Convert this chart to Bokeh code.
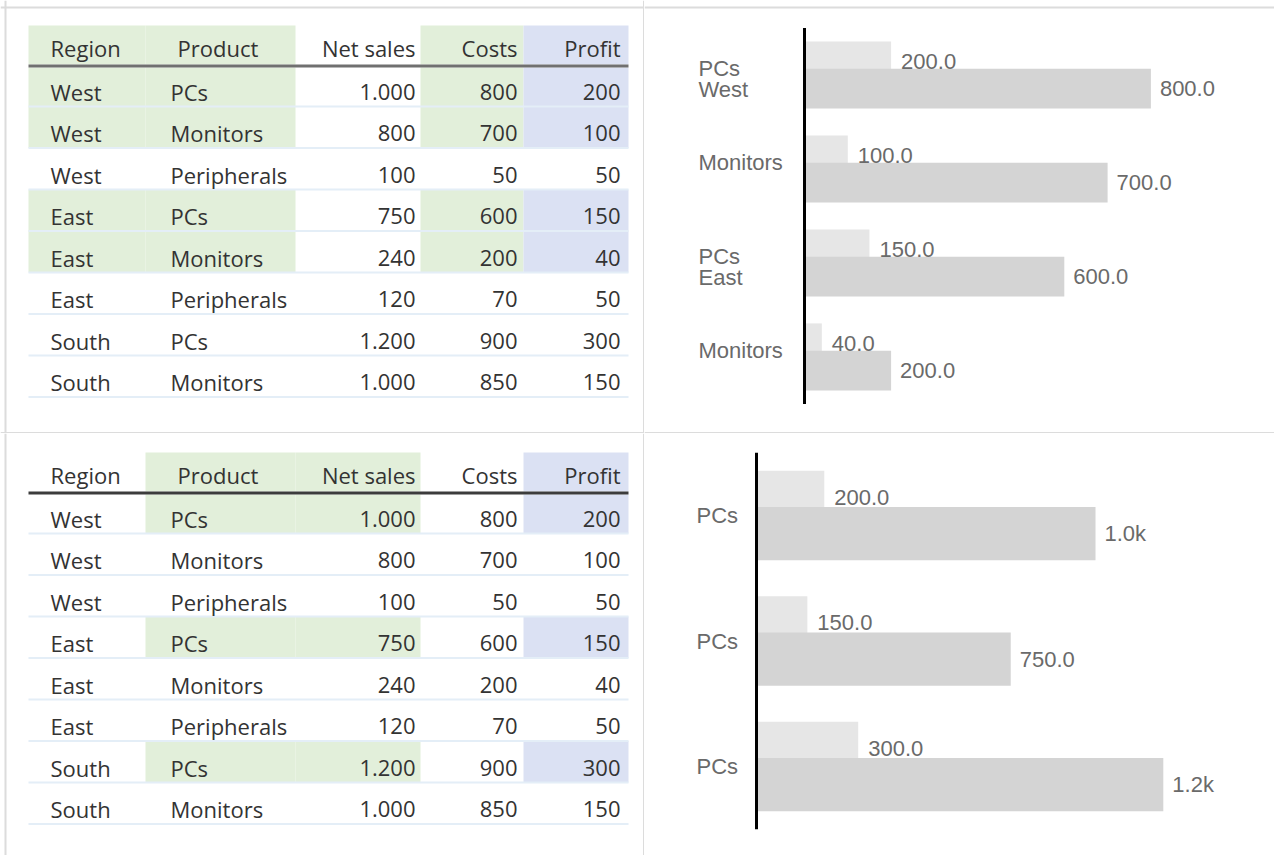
from bokeh.plotting import figure
from bokeh.models import Range1d, Span
from bokeh.layouts import column, row
from bokeh.core.properties import value
from bokeh.embed import file_html
from bokeh.resources import INLINE

# ------------------------------------------------------------------ data
columns = ["Region", "Product", "Net sales", "Costs", "Profit"]
regions = ["West", "West", "West", "East", "East", "East", "South", "South"]
products = ["PCs", "Monitors", "Peripherals", "PCs", "Monitors", "Peripherals", "PCs", "Monitors"]
net_sales = [1000, 800, 100, 750, 240, 120, 1200, 1000]
costs = [800, 700, 50, 600, 200, 70, 900, 850]
profit = [200, 100, 50, 150, 40, 50, 300, 150]

# rows used by each chart (the highlighted table rows)
sel_top = [i for i in range(len(regions))
           if regions[i] in ("West", "East") and products[i] in ("PCs", "Monitors")]
sel_bottom = [i for i in range(len(products)) if products[i] == "PCs"]

# ------------------------------------------------------------------ styles / layout
GREEN = "#e2efda"
BLUE = "#dbe1f3"
BORDER = "#dcdcdc"
SEP_COLOR = "#e4eef7"
TEXT = "#333333"
LIGHT_BAR = "#e6e6e6"
DARK_BAR = "#d4d4d4"
LABEL = "#6a6a6a"
TABLE_FONT = value("Open Sans")
TABLE_SIZE = value("22px")
CHART_FONT = value("Liberation Sans")
CHART_SIZE = value("22px")

W_L, W_R = 644, 630
H_T, H_B = 433, 422
SPLIT_X = W_L            # 644
SPLIT_Y = H_T            # 433
TOTAL_W = W_L + W_R

COL_EDGES = [28, 145, 295, 420, 523, 628]
HEAD_POS = [(50, "left"), (177, "left"), (415, "right"), (517, "right"), (620, "right")]
BODY_POS = [(50, "left"), (170, "left"), (415, "right"), (517, "right"), (620, "right")]
HEAD_TOP, HEAD_BOT = 25, 64
UNDERLINE_Y = 65.5
FIRST_ROW_TOP = 67
SEP0, ROW_PITCH = 106, 41.5
HEAD_MID = 47
MID_ABOVE_SEP = 15
TABLE_SHIFT_BOTTOM = 427
BORDER_TOP_Y, BORDER_LEFT_X = 7, 5
BORDER_MID_X, BORDER_MID_Y = 643.5, 432.5


def fmt_table(v):
    return f"{v:,}".replace(",", ".")


def fmt_top(v):
    return f"{v:.1f}"


def fmt_bottom(v):
    return f"{v/1000:.1f}k" if v >= 1000 else f"{v:.1f}"


def base_fig(width, height, x_range, y_range):
    p = figure(width=width, height=height, x_range=x_range, y_range=y_range,
               output_backend="svg", toolbar_location=None, min_border=0,
               x_axis_location=None, y_axis_location=None)
    p.grid.visible = False
    p.outline_line_color = None
    p.background_fill_color = "white"
    p.border_fill_color = "white"
    return p


def hspan(loc):
    return Span(location=loc, dimension="width", line_color=BORDER, line_width=2)


def vspan(loc):
    return Span(location=loc, dimension="height", line_color=BORDER, line_width=2)


def make_table(col_colors, hl_rows, shift, panel_top, height, underline_color, is_top):
    top_local = panel_top - shift
    p = base_fig(W_L, height, Range1d(0, SPLIT_X), Range1d(top_local + height, top_local))
    vals = [regions, products, [fmt_table(v) for v in net_sales],
            [fmt_table(v) for v in costs], [fmt_table(v) for v in profit]]
    n = len(regions)
    seps = [SEP0 + ROW_PITCH * i for i in range(n)]

    # backgrounds
    L, R, T, B, C = [], [], [], [], []
    for j, col in enumerate(col_colors):
        if col is None:
            continue
        L.append(COL_EDGES[j]); R.append(COL_EDGES[j + 1]); T.append(HEAD_TOP); B.append(HEAD_BOT); C.append(col)
        for i in hl_rows:
            L.append(COL_EDGES[j]); R.append(COL_EDGES[j + 1])
            T.append(FIRST_ROW_TOP if i == 0 else seps[i - 1]); B.append(seps[i]); C.append(col)
    p.quad(left=L, right=R, top=T, bottom=B, fill_color=C, line_color=None)

    # row separators
    p.segment(x0=[COL_EDGES[0]] * n, x1=[COL_EDGES[-1]] * n, y0=seps, y1=seps,
              line_color=SEP_COLOR, line_width=2)
    # header underline
    p.segment(x0=[COL_EDGES[0]], x1=[COL_EDGES[-1]], y0=[UNDERLINE_Y], y1=[UNDERLINE_Y],
              line_color=underline_color, line_width=3)

    # header texts
    for j, name in enumerate(columns):
        x, al = HEAD_POS[j]
        p.text(x=[x], y=[HEAD_MID], text=[name], text_align=al, text_baseline="middle",
               text_font=TABLE_FONT, text_font_size=TABLE_SIZE, text_color=TEXT)
    # body texts
    for j in range(len(columns)):
        x, al = BODY_POS[j]
        p.text(x=[x] * n, y=[s - MID_ABOVE_SEP for s in seps], text=vals[j], text_align=al,
               text_baseline="middle", text_font=TABLE_FONT, text_font_size=TABLE_SIZE,
               text_color=TEXT)

    # panel borders
    p.add_layout(vspan(BORDER_MID_X))
    p.add_layout(vspan(BORDER_LEFT_X))
    if is_top:
        p.add_layout(hspan(BORDER_TOP_Y))
        p.add_layout(hspan(BORDER_MID_Y))
    return p


OFF = 0.145      # vertical offset of each bar from the category centre
BAR_H = 0.425    # bar thickness (category units)


def make_chart(prod_lbl, reg_lbl, light, dark, zero_x, ppu, c0, pitch, panel_top, height,
               cat_dx, prod_dy, reg_dy, fmt, is_top):
    n = len(light)
    xr = Range1d(-(zero_x - SPLIT_X) / ppu, (TOTAL_W - zero_x) / ppu)
    yr = Range1d((panel_top + height - c0) / pitch, (panel_top - c0) / pitch)
    p = base_fig(W_R, height, xr, yr)
    idx = list(range(n))
    yl = [i - OFF for i in idx]
    yd = [i + OFF for i in idx]
    p.hbar(y=yl, right=light, left=0, height=BAR_H, fill_color=LIGHT_BAR, line_color=None)
    p.hbar(y=yd, right=dark, left=0, height=BAR_H, fill_color=DARK_BAR, line_color=None)
    p.segment(x0=[0], x1=[0], y0=[-0.5], y1=[n - 0.5], line_color="black", line_width=3)
    kw = dict(text_font=CHART_FONT, text_font_size=CHART_SIZE, text_color=LABEL)
    p.text(x=light, y=yl, text=[fmt(v) for v in light], x_offset=10, text_align="left",
           text_baseline="middle", **kw)
    p.text(x=dark, y=yd, text=[fmt(v) for v in dark], x_offset=9, text_align="left",
           text_baseline="middle", **kw)
    p.text(x=[0] * n, y=[i + prod_dy / pitch for i in idx], text=prod_lbl, x_offset=cat_dx,
           text_align="left", text_baseline="middle", **kw)
    ry = [i + reg_dy / pitch for i in idx if reg_lbl[i]]
    rt = [reg_lbl[i] for i in idx if reg_lbl[i]]
    if rt:
        p.text(x=[0] * len(rt), y=ry, text=rt, x_offset=cat_dx, text_align="left",
               text_baseline="middle", **kw)
    if is_top:
        p.add_layout(hspan((BORDER_TOP_Y - c0) / pitch))
        p.add_layout(hspan((BORDER_MID_Y - c0) / pitch))
    return p


# ------------------------------------------------------------------ panels
tl = make_table([GREEN, GREEN, None, GREEN, BLUE], sel_top, 0, 0, H_T, "#707070", True)
bl = make_table([None, GREEN, GREEN, None, BLUE], sel_bottom, TABLE_SHIFT_BOTTOM, SPLIT_Y, H_B,
                "#3c3c3c", False)

top_reg = []
prev = None
for i in sel_top:
    top_reg.append(regions[i] if regions[i] != prev else "")
    prev = regions[i]

tr = make_chart([products[i] for i in sel_top], top_reg,
                [profit[i] for i in sel_top], [costs[i] for i in sel_top],
                zero_x=804, ppu=0.433, c0=74.5, pitch=94, panel_top=0, height=H_T,
                cat_dx=-106, prod_dy=-7, reg_dy=14, fmt=fmt_top, is_top=True)

br = make_chart([products[i] for i in sel_bottom], [""] * len(sel_bottom),
                [profit[i] for i in sel_bottom], [net_sales[i] for i in sel_bottom],
                zero_x=756, ppu=0.339, c0=515, pitch=125.5, panel_top=SPLIT_Y, height=H_B,
                cat_dx=-60, prod_dy=0, reg_dy=0, fmt=fmt_bottom, is_top=False)

layout = column(row(tl, tr), row(bl, br))
open("out.html", "w").write(file_html(layout, INLINE))
